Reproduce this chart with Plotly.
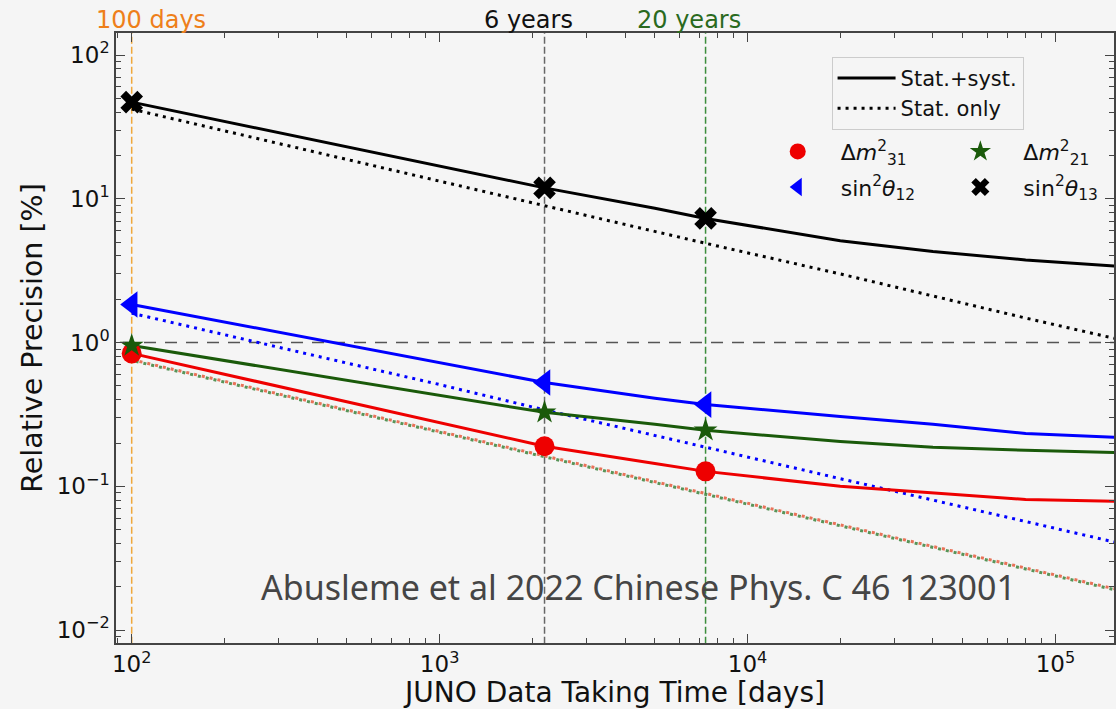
import plotly.graph_objects as go

# ---------------- data ----------------
days = [100, 1000, 2191, 5000, 7305, 20000, 40000, 80000, 155000]

s13_syst = [47, 16.9, 11.9, 8.6, 7.3, 5.1, 4.3, 3.75, 3.4]
s13_stat = [42, 13.3, 9.0, 5.95, 4.9, 3.0, 2.1, 1.48, 1.07]

s12_syst = [1.84, 0.72, 0.527, 0.41, 0.37, 0.306, 0.27, 0.233, 0.219]
s12_stat = [1.6, 0.51, 0.34, 0.227, 0.187, 0.113, 0.08, 0.057, 0.041]

dm21_syst = [0.953, 0.43, 0.327, 0.27, 0.245, 0.205, 0.187, 0.178, 0.172]
dm21_stat = [0.75, 0.238, 0.161, 0.106, 0.088, 0.053, 0.0375, 0.0265, 0.0191]

dm31_syst = [0.84, 0.277, 0.19, 0.144, 0.127, 0.1, 0.09, 0.081, 0.0787]
dm31_stat = [0.76, 0.241, 0.163, 0.107, 0.089, 0.054, 0.038, 0.0268, 0.0194]

marker_days = [100, 2191, 7305]
marker_labels = ["100 days", "6 years", "20 years"]
s13_marks = [47, 11.9, 7.3]
s12_marks = [1.84, 0.527, 0.37]
dm21_marks = [0.953, 0.327, 0.245]
dm31_marks = [0.84, 0.19, 0.127]

reference_level = 1.0

x_tick_vals = [1e2, 1e3, 1e4, 1e5]
x_tick_text = ["10<sup>2</sup>", "10<sup>3</sup>", "10<sup>4</sup>", "10<sup>5</sup>"]
y_tick_vals = [1e-2, 1e-1, 1e0, 1e1, 1e2]
y_tick_text = ["10<sup>−2</sup>", "10<sup>−1</sup>", "10<sup>0</sup>", "10<sup>1</sup>", "10<sup>2</sup>"]

# ---------------- style ----------------
BG = "#f5f5f5"
FONT = "DejaVu Sans"
RED = "#ee0000"
BLUE = "#0000ff"
GREEN = "#1a5a0a"
BLACK = "#000000"
vline_colors = ["rgba(240,160,40,0.9)", "#666666", "rgba(40,130,40,0.9)"]
label_colors = ["#ee7f1a", "#111111", "#2a6a1e"]
label_paper_x = [0.035, 0.413, 0.574]

fig = go.Figure()

y_span = [0.001, 1000]
x_span = [50, 300000]

# vertical reference lines
for d, c in zip(marker_days, vline_colors):
    fig.add_trace(go.Scatter(x=[d, d], y=y_span, mode="lines",
                             line=dict(color=c, width=1.5, dash="7px,3px"),
                             showlegend=False, hoverinfo="skip"))
# horizontal 1% line
fig.add_trace(go.Scatter(x=x_span, y=[reference_level, reference_level], mode="lines",
                         line=dict(color="#555555", width=1.5, dash="12px,9px"),
                         showlegend=False, hoverinfo="skip"))

LW = 3
DOT = "3px,5px"
# stat only (dotted)
fig.add_trace(go.Scatter(x=days, y=s13_stat, mode="lines",
                         line=dict(color=BLACK, width=LW, dash=DOT), showlegend=False))
fig.add_trace(go.Scatter(x=days, y=s12_stat, mode="lines",
                         line=dict(color=BLUE, width=LW, dash=DOT), showlegend=False))
fig.add_trace(go.Scatter(x=days, y=dm31_stat, mode="lines",
                         line=dict(color="rgba(230,90,60,0.85)", width=LW, dash="3px,5px"), showlegend=False))
fig.add_trace(go.Scatter(x=days, y=dm21_stat, mode="lines",
                         line=dict(color="rgba(60,130,60,0.85)", width=LW, dash="0px,4px,3px,1px"), showlegend=False))

# stat + syst (solid)
fig.add_trace(go.Scatter(x=days, y=s13_syst, mode="lines",
                         line=dict(color=BLACK, width=LW), showlegend=False))
fig.add_trace(go.Scatter(x=days, y=s12_syst, mode="lines",
                         line=dict(color=BLUE, width=LW), showlegend=False))
fig.add_trace(go.Scatter(x=days, y=dm21_syst, mode="lines",
                         line=dict(color=GREEN, width=LW), showlegend=False))
fig.add_trace(go.Scatter(x=days, y=dm31_syst, mode="lines",
                         line=dict(color=RED, width=LW), showlegend=False))

# markers
fig.add_trace(go.Scatter(x=marker_days, y=dm31_marks, mode="markers",
                         marker=dict(symbol="circle", size=20, color=RED),
                         name="Δ<i>m</i><sup>2</sup><sub>31</sub>", legend="legend2", legendgroup="a"))
fig.add_trace(go.Scatter(x=marker_days, y=s12_marks, mode="markers",
                         marker=dict(symbol="triangle-left", size=23, color=BLUE),
                         name="sin<sup>2</sup><i>θ</i><sub>12</sub>", legend="legend2", legendgroup="b"))
fig.add_trace(go.Scatter(x=marker_days, y=dm21_marks, mode="markers",
                         marker=dict(symbol="star", size=18, color=GREEN),
                         name="Δ<i>m</i><sup>2</sup><sub>21</sub>", legend="legend3", legendgroup="c"))
fig.add_trace(go.Scatter(x=marker_days, y=s13_marks, mode="markers",
                         marker=dict(symbol="x", size=20, color=BLACK),
                         name="sin<sup>2</sup><i>θ</i><sub>13</sub>", legend="legend3", legendgroup="d"))

# line-style legend entries
fig.add_trace(go.Scatter(x=[None], y=[None], mode="lines",
                         line=dict(color=BLACK, width=LW), name="Stat.+syst.", legend="legend"))
fig.add_trace(go.Scatter(x=[None], y=[None], mode="lines",
                         line=dict(color=BLACK, width=LW, dash="3px,5px"), name="Stat. only", legend="legend"))

# top labels
for txt, c, px in zip(marker_labels, label_colors, label_paper_x):
    fig.add_annotation(text=txt, x=px, y=1, xref="paper", yref="paper",
                       xanchor="center", yanchor="bottom", yshift=-3, showarrow=False,
                       font=dict(family=FONT, size=24, color=c))

# citation
fig.add_annotation(text="Abusleme et al 2022 Chinese Phys. C 46 123001",
                   x=0.524, y=0.092, xref="paper", yref="paper",
                   xanchor="center", yanchor="middle", showarrow=False,
                   font=dict(family="Noto Sans", size=34, color="#454545"))

axis_common = dict(
    type="log", showgrid=False, zeroline=False,
    showline=True, linecolor="#444444", linewidth=1.5, mirror="allticks",
    ticks="inside", ticklen=9, tickwidth=1.2, tickcolor="#444444",
    tickfont=dict(family=FONT, size=23, color="#111111"),
    minor=dict(ticks="inside", ticklen=5, tickwidth=1, tickcolor="#444444", dtick="D1", showgrid=False),
)

fig.update_layout(
    width=1116, height=709,
    margin=dict(l=116, r=0, t=33, b=66),
    paper_bgcolor=BG, plot_bgcolor=BG,
    font=dict(family=FONT, color="#111111"),
    xaxis=dict(axis_common, range=[1.949, 5.19], tickvals=x_tick_vals, ticktext=x_tick_text,
               title=dict(text="JUNO Data Taking Time [days]", font=dict(family=FONT, size=28), standoff=5)),
    yaxis=dict(axis_common, range=[-2.09, 2.153], tickvals=y_tick_vals, ticktext=y_tick_text,
               title=dict(text="Relative Precision [%]", font=dict(family=FONT, size=28.5), standoff=6)),
    legend=dict(x=0.717, y=0.961, xanchor="left", yanchor="top",
                bgcolor="rgba(245,245,245,0.9)", bordercolor="#cccccc", borderwidth=1,
                font=dict(family=FONT, size=21), itemwidth=58),
    legend2=dict(x=0.640, y=0.84, xanchor="left", yanchor="top", bgcolor="rgba(0,0,0,0)",
                 font=dict(family=FONT, size=22), itemwidth=76, tracegroupgap=4),
    legend3=dict(x=0.823, y=0.84, xanchor="left", yanchor="top", bgcolor="rgba(0,0,0,0)",
                 font=dict(family=FONT, size=22), itemwidth=76, tracegroupgap=4),
    showlegend=True,
)

fig.write_html("out.html")
